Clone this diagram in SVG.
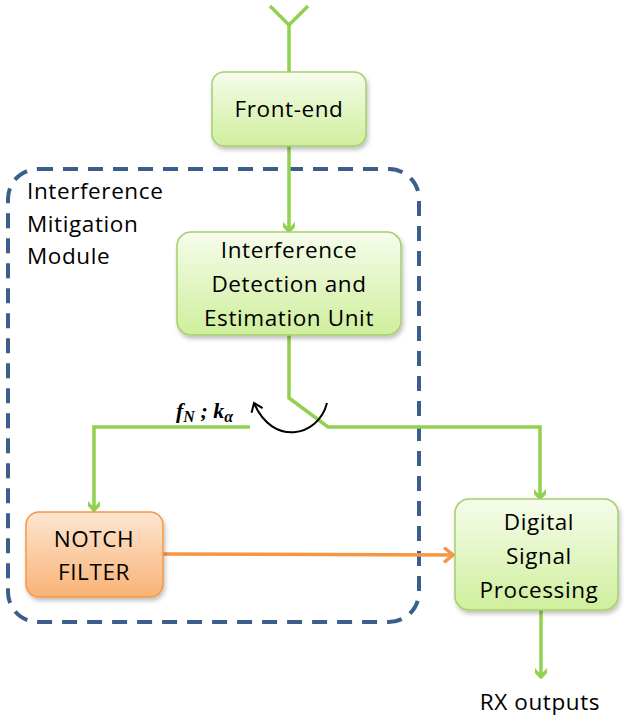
<svg xmlns="http://www.w3.org/2000/svg" width="624" height="722" viewBox="0 0 624 722">
<defs>
<linearGradient id="gg" x1="0" y1="0" x2="0" y2="1">
<stop offset="0" stop-color="#F6FCEC"/><stop offset="1" stop-color="#CFEF9C"/>
</linearGradient>
<linearGradient id="og" x1="0" y1="0" x2="0" y2="1">
<stop offset="0" stop-color="#FDE6D2"/><stop offset="1" stop-color="#F9B275"/>
</linearGradient>
<filter id="sh" x="-10%" y="-10%" width="130%" height="140%">
<feDropShadow dx="1.5" dy="3" stdDeviation="2" flood-color="#000" flood-opacity="0.25"/>
</filter>
<marker id="ag" markerWidth="12" markerHeight="12" viewBox="-10 -6 12 12" refX="0" refY="0" orient="auto" markerUnits="userSpaceOnUse">
<polyline points="-8.5,-8 0,0 -8.5,8" fill="none" stroke="#92D050" stroke-width="3.5"/>
</marker>
<marker id="ao" markerWidth="14" markerHeight="16" viewBox="-11 -8 13 16" refX="0" refY="0" orient="auto" markerUnits="userSpaceOnUse">
<polyline points="-9,-7.5 0,0 -9,7.5" fill="none" stroke="#F79646" stroke-width="3.5"/>
</marker>
<marker id="ab" markerWidth="14" markerHeight="14" viewBox="-11 -7 13 14" refX="0" refY="0" orient="auto" markerUnits="userSpaceOnUse">
<polyline points="-8,-6 0,0 -8,6" fill="none" stroke="#000" stroke-width="2"/>
</marker>
</defs>
<style>
.gbox{fill:url(#gg);stroke:#A5CF6C;stroke-width:1.5;filter:url(#sh)}
.obox{fill:url(#og);stroke:#F79646;stroke-width:1.5;filter:url(#sh)}
.t{font-family:"Open Sans","Liberation Sans",sans-serif;font-size:22.5px;letter-spacing:0.6px;fill:#000}
.c{text-anchor:middle}
.gl{fill:none;stroke:#92D050;stroke-width:3.5}
</style>

<g id="module">
<rect x="8" y="169" width="411" height="453" rx="30" ry="30" fill="none" stroke="#3B5E8C" stroke-width="4" stroke-dasharray="15 10"/>
<text class="t" x="27" y="199">Interference</text>
<text class="t" x="27" y="232">Mitigation</text>
<text class="t" x="27" y="264">Module</text>
</g>

<g id="connectors">
<polyline class="gl" points="270,6 289,25 308,6"/>
<line class="gl" x1="289" y1="25" x2="289" y2="72"/>
<line class="gl" x1="289" y1="146" x2="289" y2="231" marker-end="url(#ag)"/>
<polyline class="gl" points="289,335 289,398 328,427 540,427 540,498" marker-end="url(#ag)"/>
<polyline class="gl" points="250,427 94,427 94,510" marker-end="url(#ag)"/>
<line x1="163" y1="554" x2="453" y2="555" stroke="#F79646" stroke-width="3.5" marker-end="url(#ao)"/>
<line class="gl" x1="541" y1="610" x2="541" y2="677" marker-end="url(#ag)"/>
<path d="M327,403 C318,438 272,446 254,403" fill="none" stroke="#000" stroke-width="2" marker-end="url(#ab)"/>
<text x="176" y="418" font-family="Liberation Serif,serif" font-weight="bold" font-style="italic" font-size="22">f<tspan font-size="16" dy="4">N</tspan><tspan dy="-4"> ; k</tspan><tspan font-size="16" dy="4">α</tspan></text>
</g>

<g id="frontend">
<rect class="gbox" x="212" y="72" width="154" height="74" rx="12"/>
<text class="t c" x="289" y="117">Front-end</text>
</g>

<g id="ideu">
<rect class="gbox" x="177" y="232" width="224" height="103" rx="14"/>
<text class="t c" x="289" y="258">Interference</text>
<text class="t c" x="289" y="292">Detection and</text>
<text class="t c" x="289" y="326">Estimation Unit</text>
</g>

<g id="notch">
<rect class="obox" x="26" y="512" width="137" height="85" rx="13"/>
<text class="t c" x="94" y="547">NOTCH</text>
<text class="t c" x="94" y="580">FILTER</text>
</g>

<g id="dsp">
<rect class="gbox" x="455" y="499" width="163" height="111" rx="14"/>
<text class="t c" x="539" y="530">Digital</text>
<text class="t c" x="539" y="564">Signal</text>
<text class="t c" x="539" y="598">Processing</text>
</g>

<g id="rx">
<text class="t c" x="540" y="710">RX outputs</text>
</g>
</svg>
